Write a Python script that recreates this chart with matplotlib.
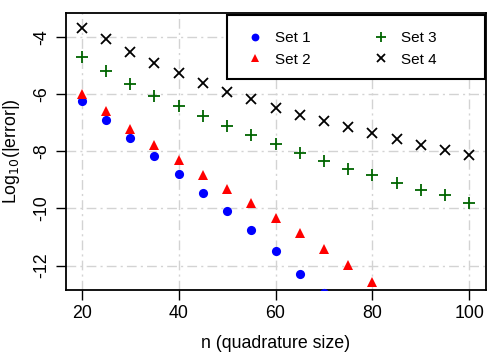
import matplotlib
matplotlib.use("Agg")
import matplotlib.pyplot as plt
from matplotlib.patches import Rectangle

plt.rcParams['font.family'] = ['Liberation Sans', 'DejaVu Sans']

n1 = [20, 25, 30, 35, 40, 45, 50, 55, 60, 65, 70]
set1 = [-6.23, -6.90, -7.54, -8.17, -8.80, -9.45, -10.09, -10.77, -11.48, -12.31, -12.98]
n2 = [20, 25, 30, 35, 40, 45, 50, 55, 60, 65, 70, 75, 80]
set2 = [-5.97, -6.59, -7.22, -7.77, -8.29, -8.84, -9.33, -9.81, -10.34, -10.87, -11.42, -11.98, -12.57]
n34 = [20, 25, 30, 35, 40, 45, 50, 55, 60, 65, 70, 75, 80, 85, 90, 95, 100]
set3 = [-4.68, -5.18, -5.65, -6.04, -6.41, -6.76, -7.11, -7.42, -7.73, -8.04, -8.34, -8.61, -8.82,
        -9.11, -9.34, -9.54, -9.79]
set4 = [-3.66, -4.07, -4.51, -4.89, -5.24, -5.61, -5.91, -6.17, -6.46, -6.71, -6.94, -7.16, -7.37,
        -7.56, -7.76, -7.95, -8.14]
xticks = [20, 40, 60, 80, 100]
yticks = [-4, -6, -8, -10, -12]

W, H = 498.0, 356.0
fig = plt.figure(figsize=(4.98, 3.56), dpi=100)
ax = fig.add_axes([66.3 / W, 1 - 289.5 / H, (485.7 - 66.3) / W, (289.5 - 12.7) / H])

dash = (0, (7, 3, 1.5, 3))
for x in xticks:
    ax.axvline(x, color='#d3d3d3', lw=1, ls=dash, zorder=0)
for y in yticks:
    ax.axhline(y, color='#d3d3d3', lw=1, ls=dash, zorder=0)

ax.plot(n1, set1, 'o', color='blue', ms=6.6, mew=0, label='Set 1', zorder=3)
ax.plot(n2, set2, '^', color='red', ms=7.2, mew=0, label='Set 2', zorder=3)
ax.plot(n34, set3, '+', color='#006400', ms=9, mew=1.3, label='Set 3', zorder=3)
ax.plot(n34, set4, 'x', color='black', ms=6.5, mew=1.3, label='Set 4', zorder=3)

ax.set_xlim(16.8, 103.4)
ax.set_ylim(-12.84, -3.135)
ax.set_xticks(xticks)
ax.set_yticks(yticks)
ax.set_yticklabels([str(t) for t in yticks], rotation=90, va='center')
ax.tick_params(axis='both', direction='out', length=7, width=1, labelsize=12.8, pad=4.5)
for s in ax.spines.values():
    s.set_linewidth(1.3)

ax.set_xlabel('n (quadrature size)', fontsize=12.8, labelpad=9)
ax.set_ylabel(r'Log$_{10}$(|error|)', fontsize=12.8, labelpad=8)

# legend frame (white box, drawn over the data)
fig.patches.append(Rectangle((227 / W, 1 - 79 / H), 258 / W, 64 / H,
                             transform=fig.transFigure, facecolor='white',
                             edgecolor='black', lw=1.5, zorder=5))
handles, labels = ax.get_legend_handles_labels()
leg = fig.legend(handles, labels, ncol=2, loc='upper left',
                 bbox_to_anchor=(227 / W, 1 - 15 / H), bbox_transform=fig.transFigure,
                 frameon=False, fontsize=11, borderpad=1.05, handletextpad=0.5,
                 columnspacing=3.8, labelspacing=0.5, borderaxespad=0, handlelength=1.6,
                 markerscale=0.85)
leg.set_zorder(6)

fig.savefig('out.png', dpi=100)
